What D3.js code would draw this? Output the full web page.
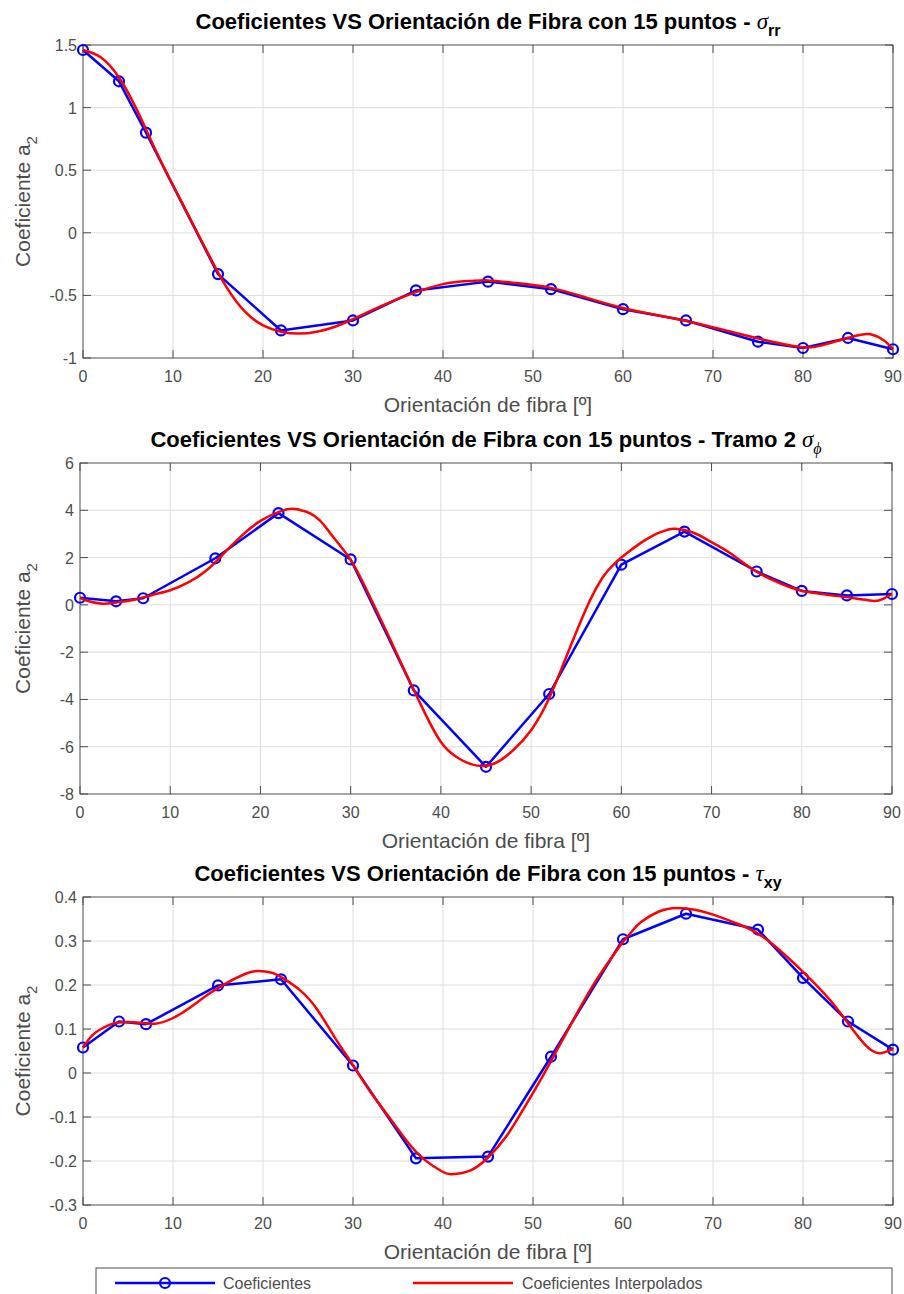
<!DOCTYPE html>
<html lang="es">
<head>
  <meta charset="UTF-8" />
  <title>Coeficientes VS Orientación de Fibra</title>
  <style>
    body { margin: 0; background: #fff; }
    svg { display: block; font-family: "Liberation Sans", Arial, sans-serif; }
    .grid line { stroke: #dedede; stroke-width: 1; }
    .frame { fill: none; stroke: #4d4d4d; stroke-width: 1; }
    .tick { stroke: #4d4d4d; stroke-width: 1; }
    .ticklabel { fill: #4d4d4d; font-size: 16px; }
    .axlabel { fill: #4d4d4d; font-size: 21px; }
    .title { fill: #000; font-size: 22px; font-weight: bold; }
  </style>
</head>
<body>
  <svg width="904" height="1294"></svg>

  <script src="https://cdnjs.cloudflare.com/ajax/libs/d3/7.8.5/d3.min.js"></script>
  <script>
    // fibre orientation (deg) of the 15 sampled points
    const angles = [0, 4, 7, 15, 22, 30, 37, 45, 52, 60, 67, 75, 80, 85, 90];

    // coefficient a2 at each angle
    const sigmaRR  = [1.46, 1.21, 0.80, -0.33, -0.78, -0.70, -0.46, -0.39, -0.45, -0.61, -0.70, -0.87, -0.92, -0.84, -0.93];
    const sigmaPhi = [0.30, 0.15, 0.28, 1.97, 3.88, 1.92, -3.62, -6.85, -3.77, 1.70, 3.10, 1.41, 0.59, 0.40, 0.46];
    const tauXY    = [0.058, 0.117, 0.111, 0.199, 0.213, 0.017, -0.194, -0.190, 0.037, 0.304, 0.362, 0.326, 0.216, 0.117, 0.053];

    // interpolated curves
    const rrFitX = [0, 2, 4, 6, 8, 10, 12, 14, 16, 18, 20, 22, 24, 26, 28, 30, 33, 36, 40, 43, 45, 48, 52, 56, 60, 64, 68, 72, 76, 80, 82, 84, 86, 87.5, 89, 90];
    const rrFitY = [1.46, 1.40, 1.24, 0.98, 0.67, 0.38, 0.10, -0.18, -0.44, -0.63, -0.74, -0.79, -0.805, -0.79, -0.75, -0.69, -0.59, -0.50, -0.41, -0.385, -0.38, -0.40, -0.44, -0.52, -0.60, -0.66, -0.72, -0.79, -0.86, -0.915, -0.90, -0.86, -0.82, -0.81, -0.86, -0.93];

    const phiFitX = [0, 1, 2.5, 4, 6, 8, 10, 12, 14, 16, 18, 20, 22, 23.5, 25, 26, 27, 28, 30, 32, 34, 36, 38, 40, 42, 44, 46, 48, 50, 52, 54, 56, 57, 58, 59, 60, 61, 62, 63, 64, 65, 66, 68, 70, 72, 75, 78, 80, 83, 86, 88, 89, 90];
    const phiFitY = [0.30, 0.15, 0.05, 0.10, 0.22, 0.42, 0.62, 0.95, 1.45, 2.2, 2.95, 3.55, 3.92, 4.06, 3.95, 3.76, 3.4, 2.9, 1.9, 0.45, -1.15, -2.8, -4.4, -5.8, -6.5, -6.8, -6.7, -6.15, -5.3, -3.95, -2.1, -0.25, 0.55, 1.2, 1.65, 2.0, 2.3, 2.58, 2.82, 3.02, 3.16, 3.22, 3.05, 2.65, 2.2, 1.4, 0.85, 0.6, 0.42, 0.27, 0.16, 0.25, 0.46];

    const xyFitX = [0, 1, 2, 3, 4, 6, 8, 10, 12, 14, 16, 18, 19.5, 21, 22, 24, 26, 28, 30, 32, 34, 36, 38, 40, 41, 43, 45, 47, 49, 51, 53, 55, 57, 59, 60, 61, 62, 64, 66, 68, 70, 73, 76, 80, 83, 85, 87, 88.5, 90];
    const xyFitY = [0.058, 0.085, 0.10, 0.11, 0.115, 0.115, 0.112, 0.125, 0.15, 0.18, 0.205, 0.225, 0.232, 0.228, 0.218, 0.19, 0.145, 0.08, 0.018, -0.045, -0.1, -0.155, -0.198, -0.225, -0.23, -0.222, -0.192, -0.145, -0.08, -0.01, 0.065, 0.14, 0.21, 0.27, 0.298, 0.322, 0.343, 0.367, 0.375, 0.371, 0.36, 0.337, 0.303, 0.23, 0.166, 0.113, 0.062, 0.045, 0.055];

    // tick labels
    const xTicks = [0, 10, 20, 30, 40, 50, 60, 70, 80, 90];
    const rrTicks = [-1, -0.5, 0, 0.5, 1, 1.5];
    const phiTicks = [-8, -6, -4, -2, 0, 2, 4, 6];
    const xyTicks = [-0.3, -0.2, -0.1, 0, 0.1, 0.2, 0.3, 0.4];

    const titleText = "Coeficientes VS Orientación de Fibra con 15 puntos - ";
    const xLabel = "Orientación de fibra [º]";
    const legendNames = ["Coeficientes", "Coeficientes Interpolados"];

    const panels = [
      { box: { left: 83, right: 893, top: 45, bottom: 358 }, y: sigmaRR, fx: rrFitX, fy: rrFitY,
        yTicks: rrTicks, title: titleText, greek: "σ", sub: "rr", subGreek: false },
      { box: { left: 80, right: 892, top: 463, bottom: 794 }, y: sigmaPhi, fx: phiFitX, fy: phiFitY,
        yTicks: phiTicks, title: titleText + "Tramo 2 ", greek: "σ", sub: "ϕ", subGreek: true },
      { box: { left: 83, right: 893, top: 897, bottom: 1205 }, y: tauXY, fx: xyFitX, fy: xyFitY,
        yTicks: xyTicks, title: titleText, greek: "τ", sub: "xy", subGreek: false }
    ];

    const svg = d3.select("svg");
    svg.append("rect").attr("width", 904).attr("height", 1294).attr("fill", "#fff");

    const tickLen = 8;

    panels.forEach(p => {
      const b = p.box;
      const x = d3.scaleLinear().domain([0, 90]).range([b.left, b.right]);
      const y = d3.scaleLinear().domain(d3.extent(p.yTicks)).range([b.bottom, b.top]);
      const g = svg.append("g");

      // grid
      const grid = g.append("g").attr("class", "grid");
      grid.selectAll(".gx").data(xTicks.slice(1, -1)).join("line")
        .attr("x1", d => x(d)).attr("x2", d => x(d))
        .attr("y1", b.top).attr("y2", b.bottom);
      grid.selectAll(".gy").data(p.yTicks.slice(1, -1)).join("line")
        .attr("y1", d => y(d)).attr("y2", d => y(d))
        .attr("x1", b.left).attr("x2", b.right);

      // frame and inward ticks on all four sides
      g.append("rect").attr("class", "frame")
        .attr("x", b.left).attr("y", b.top)
        .attr("width", b.right - b.left).attr("height", b.bottom - b.top);

      const ticks = g.append("g");
      xTicks.forEach(d => {
        ticks.append("line").attr("class", "tick")
          .attr("x1", x(d)).attr("x2", x(d)).attr("y1", b.bottom).attr("y2", b.bottom - tickLen);
        ticks.append("line").attr("class", "tick")
          .attr("x1", x(d)).attr("x2", x(d)).attr("y1", b.top).attr("y2", b.top + tickLen);
      });
      p.yTicks.forEach(d => {
        ticks.append("line").attr("class", "tick")
          .attr("x1", b.left).attr("x2", b.left + tickLen).attr("y1", y(d)).attr("y2", y(d));
        ticks.append("line").attr("class", "tick")
          .attr("x1", b.right).attr("x2", b.right - tickLen).attr("y1", y(d)).attr("y2", y(d));
      });

      // tick labels
      g.selectAll(".xl").data(xTicks).join("text")
        .attr("class", "ticklabel")
        .attr("x", d => x(d)).attr("y", b.bottom + 24)
        .attr("text-anchor", "middle")
        .text(d => String(d));
      g.selectAll(".yl").data(p.yTicks).join("text")
        .attr("class", "ticklabel")
        .attr("x", b.left - 6).attr("y", d => y(d) + 6)
        .attr("text-anchor", "end")
        .text(d => String(d));

      // axis labels
      g.append("text").attr("class", "axlabel")
        .attr("x", (b.left + b.right) / 2).attr("y", b.bottom + 54)
        .attr("text-anchor", "middle")
        .text(xLabel);

      const yl = g.append("text").attr("class", "axlabel")
        .attr("transform", `translate(30,${(b.top + b.bottom) / 2}) rotate(-90)`)
        .attr("text-anchor", "middle");
      yl.append("tspan").text("Coeficiente a");
      yl.append("tspan").attr("dy", 7).attr("font-size", 15).text("2");

      // title
      const t = g.append("text").attr("class", "title")
        .attr("x", (b.left + b.right) / 2).attr("y", b.top - 16)
        .attr("text-anchor", "middle");
      t.append("tspan").text(p.title);
      t.append("tspan")
        .attr("font-family", "'Liberation Serif', serif")
        .attr("font-style", "italic").attr("font-weight", "normal")
        .attr("font-size", 23)
        .text(p.greek);
      const s = t.append("tspan").attr("dy", 7).attr("font-size", 16).text(p.sub);
      if (p.subGreek) {
        s.attr("font-family", "'Liberation Serif', serif")
          .attr("font-style", "italic").attr("font-weight", "normal");
      }

      // blue: sampled coefficients with circle markers
      const pts = angles.map((a, i) => [a, p.y[i]]);
      g.append("path")
        .attr("d", d3.line().x(d => x(d[0])).y(d => y(d[1]))(pts))
        .attr("fill", "none").attr("stroke", "#0000ff").attr("stroke-width", 2.5)
        .attr("stroke-linejoin", "round");
      g.selectAll(".mk").data(pts).join("circle")
        .attr("cx", d => x(d[0])).attr("cy", d => y(d[1])).attr("r", 5)
        .attr("fill", "none").attr("stroke", "#0000ff").attr("stroke-width", 2.2);

      // red: interpolated curve
      const fit = p.fx.map((a, i) => [a, p.fy[i]]);
      g.append("path")
        .attr("d", d3.line().curve(d3.curveNatural).x(d => x(d[0])).y(d => y(d[1]))(fit))
        .attr("fill", "none").attr("stroke", "#ff0000").attr("stroke-width", 2.5);
    });

    // legend (box runs past the bottom edge, as in the original)
    const lg = svg.append("g");
    lg.append("rect").attr("x", 96).attr("y", 1268).attr("width", 796).attr("height", 40)
      .attr("fill", "#fff").attr("stroke", "#4d4d4d").attr("stroke-width", 1);
    const ly = 1283;
    lg.append("line").attr("x1", 115).attr("x2", 215).attr("y1", ly).attr("y2", ly)
      .attr("stroke", "#0000ff").attr("stroke-width", 2.5);
    lg.append("circle").attr("cx", 165).attr("cy", ly).attr("r", 5)
      .attr("fill", "none").attr("stroke", "#0000ff").attr("stroke-width", 2.2);
    lg.append("text").attr("x", 223).attr("y", ly + 6).attr("fill", "#4d4d4d")
      .attr("font-size", 16).text(legendNames[0]);
    lg.append("line").attr("x1", 413).attr("x2", 513).attr("y1", ly).attr("y2", ly)
      .attr("stroke", "#ff0000").attr("stroke-width", 2.5);
    lg.append("text").attr("x", 522).attr("y", ly + 6).attr("fill", "#4d4d4d")
      .attr("font-size", 16).text(legendNames[1]);
  </script>
</body>
</html>
